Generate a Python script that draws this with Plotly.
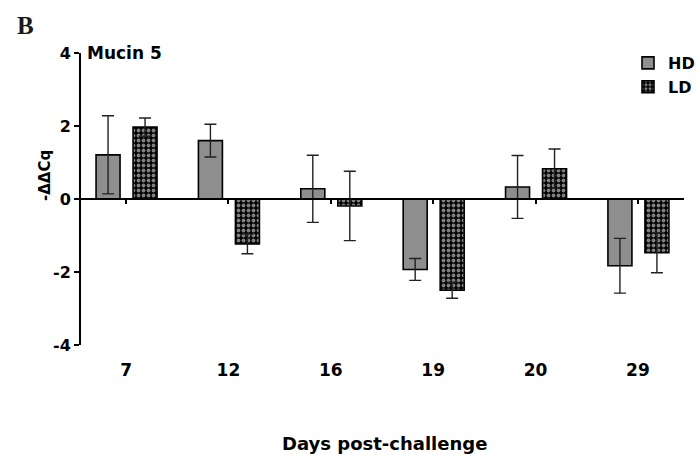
import plotly.graph_objects as go

days = ["7", "12", "16", "19", "20", "29"]
hd_vals = [1.21, 1.60, 0.28, -1.93, 0.33, -1.83]
hd_err = [1.07, 0.45, 0.92, 0.30, 0.86, 0.75]
ld_vals = [1.97, -1.23, -0.19, -2.50, 0.83, -1.47]
ld_err = [0.25, 0.27, 0.95, 0.22, 0.54, 0.55]
y_ticks = [-4, -2, 0, 2, 4]
y_tick_labels = ["-4", "-2", "0", "2", "4"]

FONT = "DejaVu Sans"
W, H = 696, 457
ML, MR, MT, MB = 81, 12, 53, 112
PW = W - ML - MR
PH = H - MT - MB

xr = [-0.44, 5.45]
ppu = PW / (xr[1] - xr[0])
bar_w = 24 / ppu
hd_off = -30 / ppu
ld_off = 7 / ppu


def px_x(px):
    return (px - ML) / PW


def px_y(py):
    return (MT + PH - py) / PH


fig = go.Figure()
fig.add_trace(go.Bar(
    x=days, y=hd_vals, name="HD",
    width=bar_w, offset=hd_off,
    marker=dict(color="#8e8e8e", line=dict(color="black", width=1.6)),
    error_y=dict(type="data", array=hd_err, color="#222222", thickness=1.4, width=6),
))
fig.add_trace(go.Bar(
    x=days, y=ld_vals, name="LD",
    width=bar_w, offset=ld_off,
    marker=dict(color="#000000", line=dict(color="black", width=1.6),
                pattern=dict(shape=".", fgcolor="white", bgcolor="#000000",
                             size=5, solidity=0.45, fillmode="overlay")),
    error_y=dict(type="data", array=ld_err, color="#222222", thickness=1.4, width=6),
))
# invisible trace so the zero-line axis (with category ticks) is rendered
fig.add_trace(go.Scatter(
    x=list(range(len(days))), y=[0] * len(days), xaxis="x2", mode="markers",
    marker=dict(opacity=0), showlegend=False, hoverinfo="skip",
))

fig.update_layout(
    width=W, height=H,
    margin=dict(l=ML, r=MR, t=MT, b=MB, autoexpand=False),
    paper_bgcolor="white", plot_bgcolor="white",
    barmode="overlay",
    showlegend=True,
    legend=dict(x=px_x(628), y=px_y(46), xanchor="left", yanchor="top",
                font=dict(family=FONT, size=16, color="black", weight="bold"),
                bgcolor="rgba(0,0,0,0)", tracegroupgap=0, itemwidth=30),
    xaxis=dict(type="category", range=xr, showline=False, ticks="", showgrid=False,
               zeroline=False, tickfont=dict(family=FONT, size=17, color="black", weight="bold"),
               ticklabelstandoff=13),
    xaxis2=dict(overlaying="x", anchor="free", position=0.5, type="linear", range=xr,
                tickvals=list(range(len(days))), showticklabels=False,
                ticks="outside", ticklen=4, tickwidth=2, tickcolor="black",
                showline=True, linewidth=2, linecolor="black", showgrid=False, zeroline=False),
    yaxis=dict(range=[-4, 4], tickvals=y_ticks, ticktext=y_tick_labels,
               ticks="outside", ticklen=5, tickwidth=2,
               tickcolor="black", showline=True, linewidth=2, linecolor="black",
               showgrid=False, zeroline=False,
               tickfont=dict(family=FONT, size=16, color="black", weight="bold")),
    annotations=[
        dict(text="Mucin 5", xref="paper", yref="paper", x=px_x(85), y=1.0,
             xanchor="left", yanchor="middle", showarrow=False,
             font=dict(family=FONT, size=17, color="black", weight="bold")),
        dict(text="-ΔΔCq", xref="paper", yref="paper", x=px_x(45),
             y=px_y(176), xanchor="center", yanchor="middle",
             textangle=-90, showarrow=False,
             font=dict(family=FONT, size=15, color="black", weight="bold")),
        dict(text="Days post-challenge", xref="paper", yref="paper", x=px_x(384),
             y=px_y(443), xanchor="center", yanchor="middle", showarrow=False,
             font=dict(family=FONT, size=18, color="black", weight="bold")),
        dict(text="B", xref="paper", yref="paper", x=px_x(25),
             y=px_y(26), xanchor="center", yanchor="middle", showarrow=False,
             font=dict(family="Liberation Serif", size=25, color="#1a1a1a", weight="bold")),
    ],
)

fig.write_html("out.html")
